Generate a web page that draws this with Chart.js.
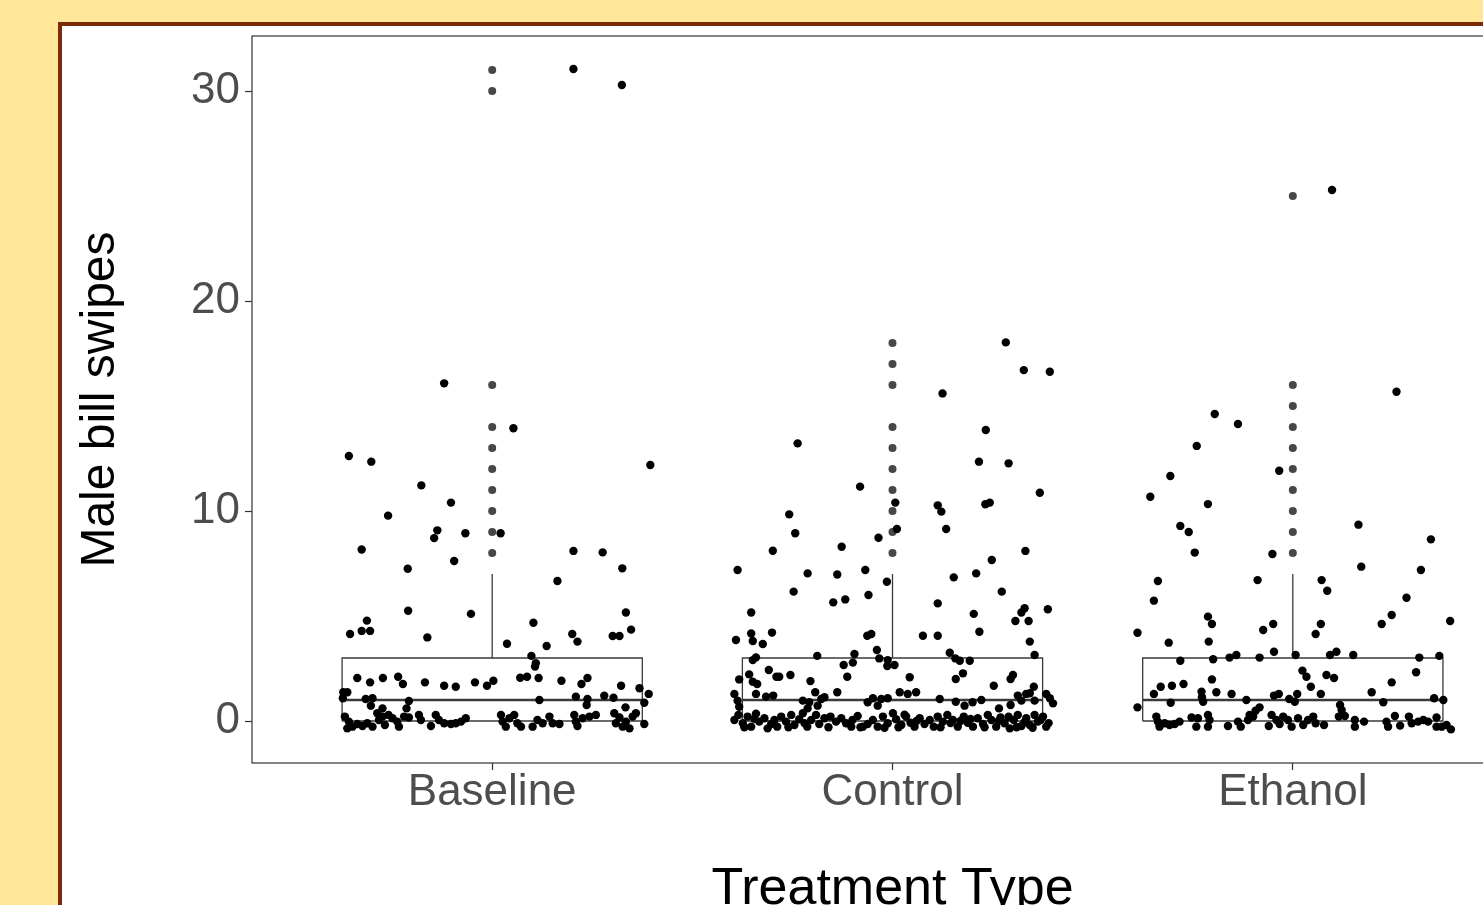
<!DOCTYPE html>
<html>
<head>
<meta charset="utf-8">
<script src="https://cdn.jsdelivr.net/npm/chart.js@4.4.1/dist/chart.umd.min.js"></script>
<style>
  html, body { margin: 0; padding: 0; width: 1483px; height: 905px; overflow: hidden; background: #FFE699; }
  #frame { position: absolute; left: 58px; top: 22px; width: 1700px; height: 1000px; border: 4px solid #7B2A0C; background: #ffffff; overflow: hidden; }
  #c { position: absolute; left: 0; top: 0; }
</style>
</head>
<body>
<div id="frame"><canvas id="c" width="1600" height="940"></canvas></div>
<script>
// ---- data ----
const categories = ['Baseline', 'Control', 'Ethanol'];
const yTicks = [0, 10, 20, 30];
const q1 = [0, 0, 0];
const medians = [1, 1, 1];
const q3 = [3, 3, 3];
const whiskerHigh = [7, 7, 7];

const outliersBaseline = [8, 9, 10, 11, 12, 13, 14, 16, 30, 31];
const outliersControl  = [8, 9, 10, 11, 12, 13, 14, 16, 17, 18];
const outliersEthanol  = [8, 9, 10, 11, 12, 13, 14, 15, 16, 25];

// jittered observations: [horizontal jitter (category units), value]
const jitterBaseline = [
  [-0.368,0.21],[-0.358,-0.03],[-0.349,-0.27],[-0.337,-0.14],[-0.324,-0.24],[-0.312,-0.11],[-0.299,-0.27],[-0.362,-0.35],
  [-0.287,0.37],[-0.283,0.05],[-0.274,0.21],[-0.268,-0.19],[-0.259,0.29],[-0.249,0.13],[-0.237,-0.03],[-0.233,-0.27],[-0.22,0.21],[-0.208,0.17],
  [-0.183,0.29],[-0.178,0.05],[-0.153,-0.24],[-0.141,0.29],[-0.133,0.05],[-0.12,-0.11],[-0.103,-0.14],[-0.091,-0.11],[-0.078,-0.03],[-0.066,0.13],
  [0.022,0.29],[0.026,-0.03],[0.034,-0.27],[0.043,0.13],[0.055,0.29],[0.063,-0.11],[0.072,-0.27],[0.101,-0.27],[0.113,0.05],[0.126,-0.11],[0.143,0.21],[0.151,-0.11],[0.168,-0.14],
  [0.205,0.29],[0.209,-0.03],[0.213,-0.24],[0.226,0.13],[0.243,0.21],[0.259,0.29],[0.305,0.37],[0.309,-0.11],[0.318,0.17],[0.326,-0.27],[0.334,-0.03],[0.343,-0.35],[0.351,0.21],[0.359,0.37],[0.38,-0.14],
  [0.163,6.67],[-0.21,5.25],[-0.053,5.10],[0.334,5.17],[-0.313,4.78],[-0.355,4.14],[-0.326,4.29],[-0.305,4.29],[-0.162,3.98],[0.103,4.68],[0.2,4.14],[0.213,3.78],[0.037,3.68],[0.136,3.57],[0.301,4.05],[0.318,4.05],[0.347,4.35],[0.098,3.1],[0.109,2.75],[0.107,2.59],
  [-0.337,2.05],[-0.305,1.84],[-0.273,2.05],[-0.235,2.11],[-0.223,1.76],[-0.168,1.84],[-0.12,1.68],[-0.091,1.63],[-0.043,1.84],[-0.013,1.68],[0.003,1.92],[0.07,2.06],[0.087,2.11],[0.116,2.05],[0.173,1.92],[0.223,1.76],[0.238,2.05],[0.322,1.68],[0.368,1.56],[0.391,1.29],[-0.372,1.37],[-0.362,1.37],[-0.373,1.08],
  [-0.316,1.05],[-0.299,1.08],[-0.303,0.73],[-0.208,0.95],[-0.214,0.6],[0.118,1.0],[0.209,1.16],[0.238,1.05],[0.236,0.76],[0.28,1.2],[0.303,1.11],[0.333,0.65],[0.38,0.87],[-0.274,0.6],
  [-0.12,16.08],[0.053,13.94],[-0.358,12.62],[-0.302,12.35],[0.395,12.19],[-0.177,11.22],[-0.103,10.4],[-0.26,9.78],[-0.137,9.08],[-0.145,8.71],[-0.067,8.94],[0.021,8.94],[-0.326,8.17],[-0.211,7.25],[-0.095,7.62],[0.203,8.1],[0.276,8.03],[0.325,7.27],
  [0.203,31.05],[0.324,30.29]
];

const jitterControl = [
  [0.283,18.03],[0.328,16.71],[0.393,16.63],[0.125,15.6],[0.233,13.86],[-0.237,13.22],[0.216,12.35],[0.29,12.27],[-0.081,11.16],[0.368,10.87],[0.113,10.27],[0.122,9.97],[0.232,10.32],[0.243,10.4],[0.007,10.4],[-0.258,9.84],[-0.243,8.94],[0.011,9.14],[0.134,9.14],[-0.299,8.11],[-0.127,8.3],[-0.035,8.73],[0.332,8.1],[0.248,7.67],[-0.387,7.19],[-0.212,7.03],[-0.138,6.98],[-0.068,7.19],[0.153,6.84],[0.209,7.03],
  [-0.014,6.63],[-0.247,6.16],[-0.148,5.65],[-0.118,5.79],[-0.06,6.0],[0.113,5.6],[0.273,6.16],[0.388,5.32],[0.33,5.37],[0.322,5.17],[0.307,4.76],[0.34,4.76],[0.203,5.1],[0.217,4.25],[-0.353,5.17],[-0.391,3.86],[-0.353,4.17],[-0.349,3.81],[-0.324,3.67],[-0.301,4.21],[-0.063,4.06],[-0.053,4.14],[0.076,4.06],[0.113,4.06],[0.343,3.78],[0.355,3.14],[-0.039,3.38],[0.143,3.25],[-0.188,3.1],[-0.095,3.19],[-0.099,2.78],[-0.341,3.03],[-0.349,2.9],[-0.033,2.98],[-0.012,2.9],[-0.013,2.62],[0.005,2.67],[-0.122,2.67],[0.157,2.98],[0.168,2.87],[0.193,2.87],
  [-0.358,2.22],[-0.309,2.43],[-0.29,2.11],[-0.283,2.11],[-0.255,2.19],[-0.383,1.98],[-0.349,1.87],[-0.338,1.76],[-0.205,1.9],[-0.113,2.11],[0.043,2.08],[0.176,2.27],[0.158,2.0],[0.301,2.19],[0.295,2.0],[0.253,1.68],[0.353,1.63],[0.343,1.32],[-0.395,1.29],[-0.341,1.29],[-0.316,1.16],[-0.298,1.21],[-0.193,1.37],[-0.138,1.37],[0.018,1.37],[0.038,1.29],[0.059,1.37],[0.313,1.21],[0.334,1.29],[0.384,1.29],[0.393,1.08],[0.401,0.84],
  [-0.224,0.97],[-0.208,0.89],[-0.178,1.05],[-0.17,1.13],[-0.212,0.6],[-0.187,0.73],[-0.062,0.89],[-0.037,0.73],[-0.049,1.08],[-0.028,1.05],[-0.012,1.08],[0.118,1.05],[0.158,0.92],[0.18,0.73],[0.2,0.89],[0.222,1.0],[0.266,0.6],[0.295,0.76],[0.322,0.97],[-0.383,0.68],[-0.387,0.97],[0.355,0.97],
  [-0.395,0.05],[-0.385,0.29],[-0.374,-0.11],[-0.362,0.21],[-0.353,-0.27],[-0.341,0.35],[-0.333,-0.03],[-0.32,0.13],[-0.312,-0.35],[-0.303,-0.14],[-0.288,-0.27],[-0.278,0.21],[-0.266,-0.03],[-0.253,0.29],[-0.245,-0.19],[-0.233,0.08],[-0.224,0.37],[-0.213,-0.27],[-0.203,0.05],[-0.191,0.29],[-0.183,-0.14],[-0.17,0.13],[-0.155,0.21],[-0.141,-0.03],[-0.128,0.13],[-0.116,-0.11],[-0.103,-0.27],[-0.087,0.24],[-0.074,-0.27],[-0.062,-0.14],[-0.049,0.05],[-0.037,-0.27],[-0.024,0.21],[-0.012,-0.11],[0.001,0.37],[0.009,0.08],[0.022,-0.19],[0.034,0.21],[0.045,-0.08],[0.055,-0.27],[0.068,0.13],[0.08,-0.14],[0.093,0.05],[0.103,-0.27],[0.113,0.21],[0.126,-0.03],[0.137,0.29],[0.151,0.05],[0.163,-0.27],[0.178,0.21],[0.188,-0.08],[0.201,-0.27],[0.213,0.13],[0.226,-0.14],[0.238,0.29],[0.247,0.05],[0.259,-0.27],[0.27,0.17],[0.28,-0.11],[0.293,-0.35],[0.303,0.05],[0.313,0.29],[0.322,-0.24],[0.334,0.13],[0.343,-0.19],[0.355,0.29],[0.363,-0.03],[0.376,0.21],[0.384,-0.27],
  [-0.37,-0.3],[-0.345,0.1],[-0.295,0.05],[-0.26,-0.3],[-0.22,-0.1],[-0.16,-0.3],[-0.1,0.05],[-0.08,-0.3],[-0.02,-0.32],[0.015,-0.3],[0.03,0.3],[0.06,0.0],[0.12,-0.3],[0.145,-0.1],[0.17,0.0],[0.195,0.1],[0.23,-0.3],[0.265,0.0],[0.29,0.2],[0.31,-0.3],[0.33,-0.05],[0.35,-0.32],[0.37,0.05],[0.39,-0.1]
];

const jitterEthanol = [
  [0.098,25.29],[0.259,15.68],[-0.195,14.62],[-0.137,14.14],[-0.24,13.1],[-0.306,11.67],[-0.034,11.92],[-0.356,10.68],[-0.212,10.33],[-0.281,9.29],[-0.26,9.0],[0.164,9.35],[0.345,8.65],[-0.245,8.02],[-0.051,7.95],[0.171,7.35],[0.32,7.19],
  [-0.337,6.67],[-0.088,6.71],[0.072,6.71],[0.086,6.2],[-0.347,5.73],[0.284,5.87],[-0.212,4.97],[-0.202,4.62],[0.247,5.05],[0.222,4.62],[0.393,4.76],[-0.388,4.2],[-0.31,3.73],[-0.21,3.78],[-0.074,4.33],[-0.049,4.62],[0.07,4.62],[0.057,4.14],[-0.281,2.87],[-0.199,2.94],[-0.158,3.02],[-0.141,3.14],[-0.083,3.02],[-0.047,3.3],[0.007,3.14],[0.093,3.14],[0.109,3.3],[0.151,3.14],[0.316,3.02],[0.366,3.1],
  [0.024,2.4],[0.034,2.11],[0.084,2.19],[0.103,2.05],[0.308,2.32],[-0.202,1.98],[0.247,1.84],[-0.33,1.63],[-0.302,1.68],[-0.273,1.76],[0.045,1.63],[-0.347,1.29],[-0.228,1.4],[-0.227,1.13],[-0.191,1.37],[-0.153,1.29],[-0.047,1.21],[-0.035,1.29],[0.011,1.29],[0.07,1.29],[0.197,1.37],[-0.116,1.0],[-0.009,1.05],[0.005,0.92],[-0.224,0.92],[0.353,1.08],[0.376,1.0],[0.226,0.89],[-0.305,0.87],[-0.388,0.65],[0.118,0.76],[0.122,0.52],[0.115,0.21],[0.13,0.24],[-0.083,0.65],[-0.093,0.49],[-0.108,0.29],
  [-0.341,0.21],[-0.337,-0.03],[-0.333,-0.27],[-0.32,-0.11],[-0.308,-0.19],[-0.295,-0.14],[-0.283,-0.03],[-0.253,0.17],[-0.241,-0.27],[-0.237,0.13],[-0.212,0.29],[-0.208,0.05],[-0.212,-0.27],[-0.162,-0.24],[-0.137,-0.03],[-0.13,-0.27],[-0.112,0.05],[-0.099,0.21],[-0.06,-0.24],[-0.053,0.29],[-0.041,0.05],[-0.033,-0.14],[-0.024,0.21],[-0.012,0.05],[-0.003,-0.27],[0.013,0.13],[0.026,-0.19],[0.038,0.05],[0.051,0.21],[0.057,-0.11],[0.078,-0.19],[0.155,0.05],[0.155,-0.27],[0.178,-0.03],[0.234,-0.03],[0.238,-0.27],[0.255,0.24],[0.268,-0.22],[0.29,0.21],[0.297,-0.11],[0.313,-0.03],[0.326,0.05],[0.338,-0.03],[0.359,0.17],[0.359,-0.27],[0.372,-0.27],[0.384,-0.19],[0.395,-0.4]
];

// ---- chart construction ----
const groupJitter = [jitterBaseline, jitterControl, jitterEthanol];
const groupOutliers = [outliersBaseline, outliersControl, outliersEthanol];
const BOX_HALF = 0.375;
const FONT = "'Liberation Sans', Arial, Helvetica, sans-serif";

const datasets = [];
groupJitter.forEach((pts, g) => {
  datasets.push({
    label: categories[g] + ' points',
    data: pts.map(([dx, v]) => ({ x: g + 1 + dx, y: v })),
    backgroundColor: '#000000', borderWidth: 0, pointRadius: 4.2, pointHoverRadius: 4.2, order: 0
  });
});
groupOutliers.forEach((vals, g) => {
  datasets.push({
    label: categories[g] + ' outliers',
    data: vals.map(v => ({ x: g + 1, y: v })),
    backgroundColor: '#474747', borderWidth: 0, pointRadius: 4.0, pointHoverRadius: 4.0, order: 1
  });
});
categories.forEach((c, g) => {
  const cx = g + 1, l = cx - BOX_HALF, r = cx + BOX_HALF;
  const lineBase = { showLine: true, fill: false, pointRadius: 0, pointHoverRadius: 0, borderColor: '#3a3a3a', tension: 0, order: 2 };
  datasets.push(Object.assign({}, lineBase, { label: c + ' box', borderWidth: 1.3,
    data: [{x:l,y:q1[g]},{x:r,y:q1[g]},{x:r,y:q3[g]},{x:l,y:q3[g]},{x:l,y:q1[g]}] }));
  datasets.push(Object.assign({}, lineBase, { label: c + ' median', borderWidth: 2.6,
    data: [{x:l,y:medians[g]},{x:r,y:medians[g]}] }));
  datasets.push(Object.assign({}, lineBase, { label: c + ' whisker', borderWidth: 1.3,
    data: [{x:cx,y:q3[g]},{x:cx,y:whiskerHigh[g]}] }));
});

const panelBorder = {
  id: 'panelBorder',
  afterDraw(chart) {
    const { ctx, chartArea: a } = chart;
    ctx.save();
    ctx.strokeStyle = '#333333';
    ctx.lineWidth = 1.2;
    ctx.strokeRect(a.left, a.top, a.right - a.left, a.bottom - a.top);
    ctx.restore();
  }
};

new Chart(document.getElementById('c'), {
  type: 'scatter',
  data: { datasets },
  plugins: [panelBorder],
  options: {
    responsive: false,
    animation: false,
    layout: { padding: { top: 10, right: 129, left: 0, bottom: 0 } },
    plugins: { legend: { display: false }, tooltip: { enabled: false } },
    scales: {
      x: {
        type: 'linear', min: 0.4, max: 3.6,
        afterBuildTicks: s => { s.ticks = categories.map((c, i) => ({ value: i + 1 })); },
        afterFit: s => { s.height = 203; s.paddingLeft = 0; s.paddingRight = 0; },
        ticks: { callback: v => categories[Math.round(v) - 1], color: '#4D4D4D', font: { family: FONT, size: 44, lineHeight: 1 }, padding: 1, maxRotation: 0, autoSkip: false },
        grid: { drawOnChartArea: false, drawTicks: true, tickLength: 7, tickColor: '#333333', tickWidth: 1.2 },
        border: { display: false },
        title: { display: true, text: 'Treatment Type', color: '#000000', font: { family: FONT, size: 52, lineHeight: 1.2 }, padding: { top: 0, bottom: 45 } }
      },
      y: {
        type: 'linear', min: -2.0, max: 32.62,
        afterBuildTicks: s => { s.ticks = yTicks.map(v => ({ value: v })); },
        afterFit: s => { s.width = 190; s.paddingTop = 0; s.paddingBottom = 0; },
        ticks: { callback: v => String(v), color: '#4D4D4D', font: { family: FONT, size: 44, lineHeight: 1 }, padding: 5, autoSkip: false },
        grid: { drawOnChartArea: false, drawTicks: true, tickLength: 7, tickColor: '#333333', tickWidth: 1.2 },
        border: { display: false },
        title: { display: true, text: 'Male bill swipes', color: '#000000', font: { family: FONT, size: 48, lineHeight: 1.2 }, padding: { top: 10, bottom: 0 } }
      }
    }
  }
});
</script>
</body>
</html>
